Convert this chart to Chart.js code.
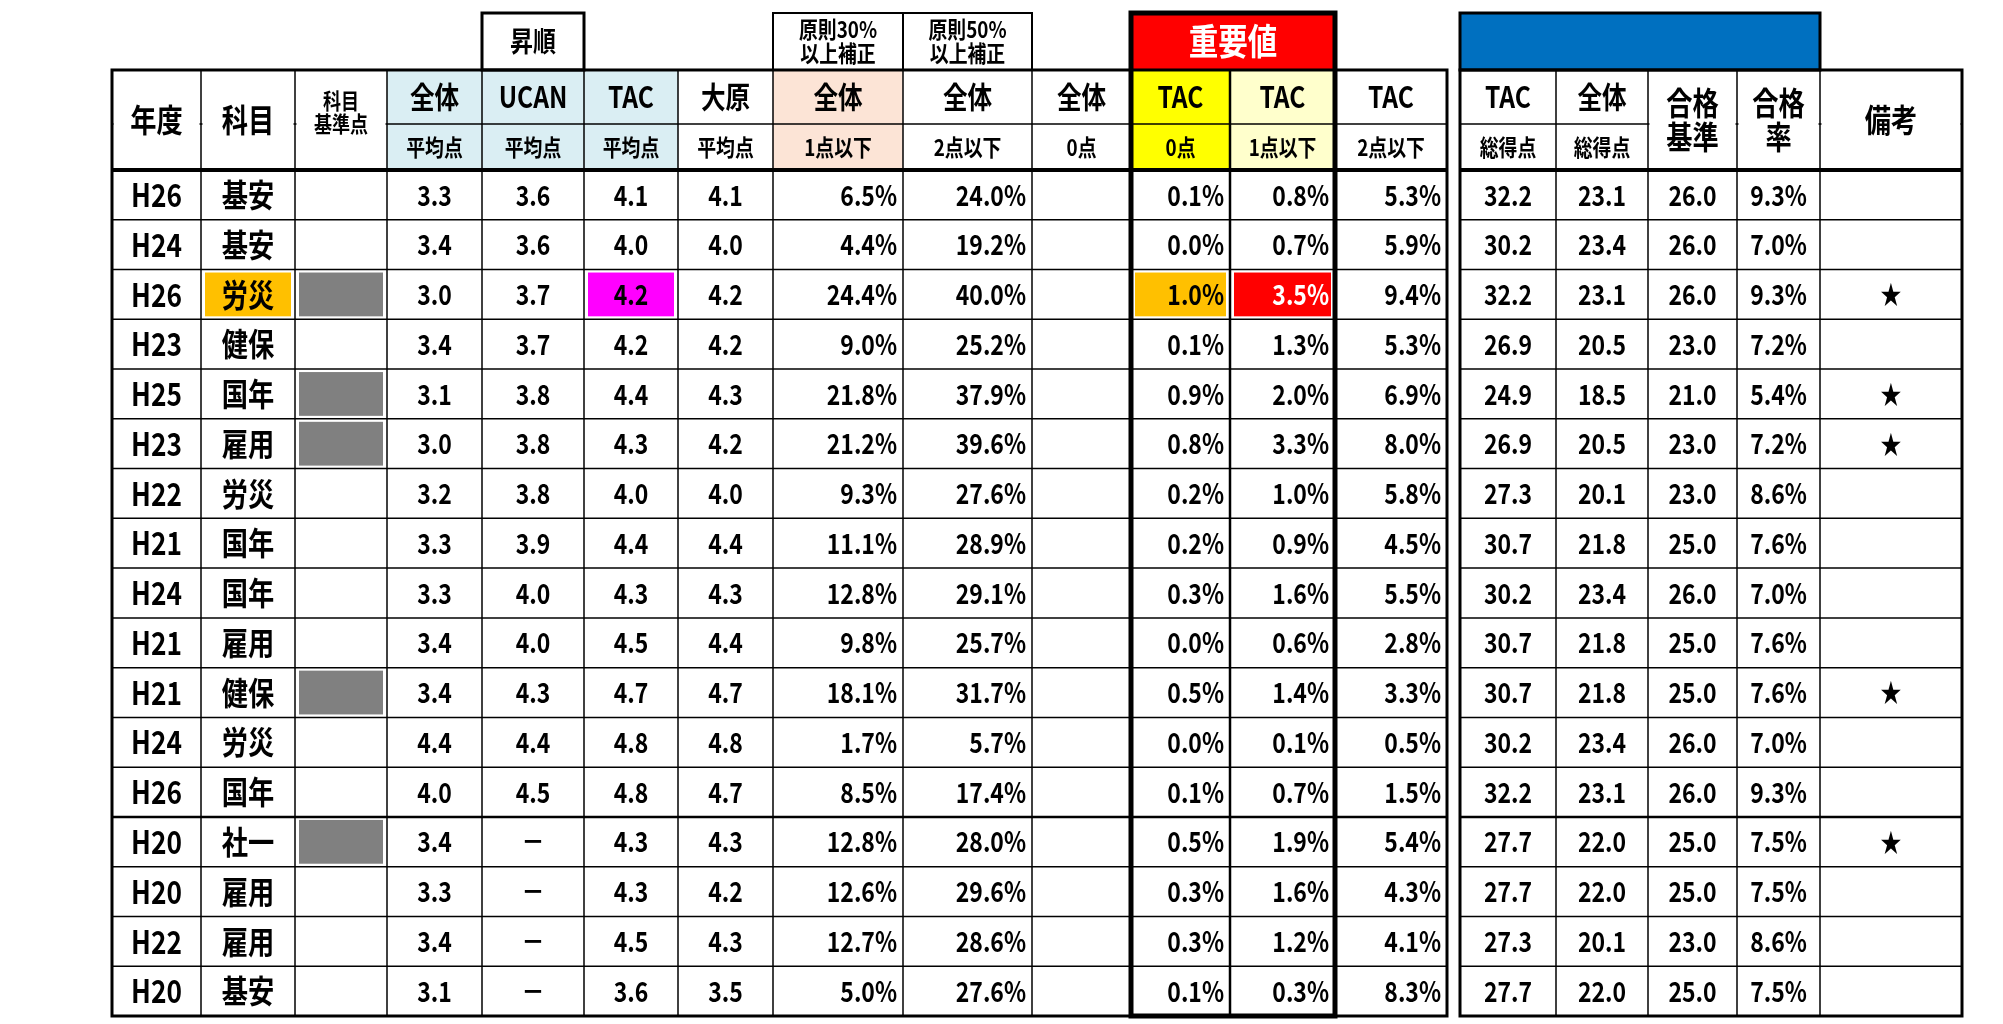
<!DOCTYPE html>
<html><head><meta charset="utf-8">
<script src="https://cdn.jsdelivr.net/npm/chart.js@4/dist/chart.umd.min.js"></script>
<style>html,body{margin:0;padding:0;background:#fff;overflow:hidden}#wrap{width:2003px;height:1024px}</style>
</head><body><div id="wrap"><canvas id="c" width="2003" height="1024"></canvas></div>
<script>
const years=["H26","H24","H26","H23","H25","H23","H22","H21","H24","H21","H21","H24","H26","H20","H20","H22","H20"];
const subjects=["基安","基安","労災","健保","国年","雇用","労災","国年","国年","雇用","健保","労災","国年","社一","雇用","雇用","基安"];
const kijunGray=[0,0,1,0,1,1,0,0,0,0,1,0,0,1,0,0,0];
const avgAll=[3.3,3.4,3.0,3.4,3.1,3.0,3.2,3.3,3.3,3.4,3.4,4.4,4.0,3.4,3.3,3.4,3.1];
const avgUcan=[3.6,3.6,3.7,3.7,3.8,3.8,3.8,3.9,4.0,4.0,4.3,4.4,4.5,null,null,null,null];
const avgTac=[4.1,4.0,4.2,4.2,4.4,4.3,4.0,4.4,4.3,4.5,4.7,4.8,4.8,4.3,4.3,4.5,3.6];
const avgOhara=[4.1,4.0,4.2,4.2,4.3,4.2,4.0,4.4,4.3,4.4,4.7,4.8,4.7,4.3,4.2,4.3,3.5];
const all1=[6.5,4.4,24.4,9.0,21.8,21.2,9.3,11.1,12.8,9.8,18.1,1.7,8.5,12.8,12.6,12.7,5.0];
const all2=[24.0,19.2,40.0,25.2,37.9,39.6,27.6,28.9,29.1,25.7,31.7,5.7,17.4,28.0,29.6,28.6,27.6];
const tac0=[0.1,0.0,1.0,0.1,0.9,0.8,0.2,0.2,0.3,0.0,0.5,0.0,0.1,0.5,0.3,0.3,0.1];
const tac1=[0.8,0.7,3.5,1.3,2.0,3.3,1.0,0.9,1.6,0.6,1.4,0.1,0.7,1.9,1.6,1.2,0.3];
const tac2=[5.3,5.9,9.4,5.3,6.9,8.0,5.8,4.5,5.5,2.8,3.3,0.5,1.5,5.4,4.3,4.1,8.3];
const tacTotal=[32.2,30.2,32.2,26.9,24.9,26.9,27.3,30.7,30.2,30.7,30.7,30.2,32.2,27.7,27.7,27.3,27.7];
const allTotal=[23.1,23.4,23.1,20.5,18.5,20.5,20.1,21.8,23.4,21.8,21.8,23.4,23.1,22.0,22.0,20.1,22.0];
const passLine=[26.0,26.0,26.0,23.0,21.0,23.0,23.0,25.0,26.0,25.0,25.0,26.0,26.0,25.0,25.0,23.0,25.0];
const passRate=[9.3,7.0,9.3,7.2,5.4,7.2,8.6,7.6,7.0,7.6,7.6,7.0,9.3,7.5,7.5,8.6,7.5];
const notes=["","","★","","★","★","","","","","★","","","★","","",""];
const hdr1=["年度","科目","科目\n基準点","全体","UCAN","TAC","大原","全体","全体","全体","TAC","TAC","TAC","TAC","全体","合格\n基準","合格\n率","備考"];
const hdr2=["","","","平均点","平均点","平均点","平均点","1点以下","2点以下","0点","0点","1点以下","2点以下","総得点","総得点","","",""];

const colEdges=[112,201,295,387,482,584,678,773,903,1032,1131,1230,1335,1447,1460,1556,1648,1737,1820,1962];
const N=years.length;
const FONT='"Noto Sans CJK JP","Noto Sans",sans-serif';
const fmt1=v=>v==null?"－":v.toFixed(1);
const pct=v=>v.toFixed(1)+"%";
function colX(i){const e=i<13?i:i+1;return [colEdges[e],colEdges[e+1]];}

const tablePlugin={id:'table',afterDraw(chart){
 const ctx=chart.ctx,xs=chart.scales.x,ys=chart.scales.y;
 const X=v=>xs.getPixelForValue(v),Y=v=>ys.getPixelForValue(v);
 const fill=(x0,y0,x1,y1,c)=>{ctx.fillStyle=c;ctx.fillRect(X(x0),Y(y0),X(x1)-X(x0),Y(y1)-Y(y0));};
 const line=(x0,y0,x1,y1,w)=>{ctx.strokeStyle='#000';ctx.lineWidth=w;ctx.beginPath();ctx.moveTo(X(x0),Y(y0));ctx.lineTo(X(x1),Y(y1));ctx.stroke();};
 const rect=(x0,y0,x1,y1,w)=>{ctx.strokeStyle='#000';ctx.lineWidth=w;ctx.strokeRect(X(x0),Y(y0),X(x1)-X(x0),Y(y1)-Y(y0));};
 const text=(s,x0,x1,yc,size,align,color,sx)=>{
  ctx.save();ctx.font='700 '+size+'px '+FONT;ctx.fillStyle=color||'#000';ctx.textBaseline='middle';
  const lines=s.split("\n");const lh=size*1.05;
  lines.forEach((l,k)=>{const y=Y(yc)+(k-(lines.length-1)/2)*lh;
   const w=ctx.measureText(l).width*(sx||0.82);
   let xx=align==='right'?X(x1)-6-w:align==='left'?X(x0)+8:(X(x0)+X(x1))/2-w/2;
   ctx.save();ctx.translate(xx,y);ctx.scale(sx||0.82,1);ctx.textAlign='left';ctx.fillText(l,0,0);ctx.restore();});
  ctx.restore();};
 const T=-2.01,M=-0.925,H=0,TOP=-3.155;
 for(const i of [3,4,5]) {const [a,b]=colX(i);fill(a,T,b,H,'#DAEEF3');}
 {const [a,b]=colX(7);fill(a,T,b,H,'#FCE4D6');}
 {const [a,b]=colX(10);fill(a,T,b,H,'#FFFF00');}
 {const [a,b]=colX(11);fill(a,T,b,H,'#FFFFCC');}
 fill(1131,TOP,1335,T,'#FF0000');
 fill(1460,TOP,1820,T,'#0070C0');
 for(let r=0;r<N;r++){
  if(kijunGray[r]){const [a,b]=colX(2);fill(a+4,r+0.06,b-4,r+0.94,'#808080');}
 }
 {const [a,b]=colX(1);fill(a+4,2.06,b-4,2.94,'#FFC000');}
 {const [a,b]=colX(5);fill(a+4,2.06,b-4,2.94,'#FF00FF');}
 {const [a,b]=colX(10);fill(a+4,2.06,b-4,2.94,'#FFC000');}
 {const [a,b]=colX(11);fill(a+4,2.06,b-4,2.94,'#FF0000');}
 const groups=[[112,1447],[1460,1962]];
 for(const [g0,g1] of groups){
  for(let r=1;r<N;r++) line(g0,r,g1,r,r===13?2.5:1.5);
  line(g0,M,g1,M,1.5);
 }
 for(let i=0;i<colEdges.length;i++){
  const x=colEdges[i];
  if([112,1447,1460,1962].includes(x)) continue;
  line(x,0,x,N,1.5);line(x,T,x,H,1.5);
 }
 for(const i of [0,1,2,15,16,17]){const [a,b]=colX(i);ctx.fillStyle='#fff';ctx.fillRect(X(a)+1.5,Y(M)-2,X(b)-X(a)-3,4);}
 rect(482,TOP,584,T,3);rect(773,TOP,903,T,2);rect(903,TOP,1032,T,2);
 rect(1460,TOP,1820,T,3);
 rect(112,T,1447,N,3);rect(1460,T,1962,N,3);
 line(112,H,1447,H,4);line(1460,H,1962,H,4);
 rect(1131,TOP,1335,N,5);line(1230,T,1230,N,2.5);
 for(let i=0;i<18;i++){const [a,b]=colX(i);
  if(hdr2[i]===""){const sz=[0,1,15,16,17].includes(i)?32:22;text(hdr1[i],a,b,(T+H)/2-(i===2?0.15:0),sz,'center');}
  else{text(hdr1[i],a,b,(T+M)/2,30,'center');
       text(hdr2[i],a,b,(M+H)/2,23,'center');}
 }
 text("昇順",482,584,(TOP+T)/2,28,'center');
 text("原則30%\n以上補正",773,903,(TOP+T)/2,23,'center');
 text("原則50%\n以上補正",903,1032,(TOP+T)/2,23,'center');
 text("重要値",1131,1335,(TOP+T)/2,36,'center','#fff');
 for(let r=0;r<N;r++){const yc=r+0.5;
  const c=(i,s,al,col,sz)=>{const [a,b]=colX(i);text(s,a,b,yc,sz||28,al||'center',col);};
  c(0,years[r],'center',null,32);c(1,subjects[r],'center',null,32);
  c(3,fmt1(avgAll[r]));c(4,fmt1(avgUcan[r]));c(5,fmt1(avgTac[r]));c(6,fmt1(avgOhara[r]));
  c(7,pct(all1[r]),'right');c(8,pct(all2[r]),'right');
  c(10,pct(tac0[r]),'right');c(11,pct(tac1[r]),'right',r===2?'#fff':null);c(12,pct(tac2[r]),'right');
  c(13,fmt1(tacTotal[r]));c(14,fmt1(allTotal[r]));c(15,fmt1(passLine[r]));c(16,pct(passRate[r]));
  if(notes[r]) c(17,notes[r],'center',null,26);
 }
}};

new Chart(document.getElementById('c'),{
 type:'scatter',
 data:{datasets:[{data:avgTac.map((v,i)=>({x:0,y:i})),pointRadius:0,showLine:false}]},
 options:{responsive:false,animation:false,events:[],
  layout:{padding:0},
  plugins:{legend:{display:false},tooltip:{enabled:false}},
  scales:{x:{type:'linear',min:0,max:2003,display:false},
          y:{type:'linear',min:-170/49.76,max:17+8/49.76,reverse:true,display:false}}},
 plugins:[tablePlugin]
});
</script></body></html>
